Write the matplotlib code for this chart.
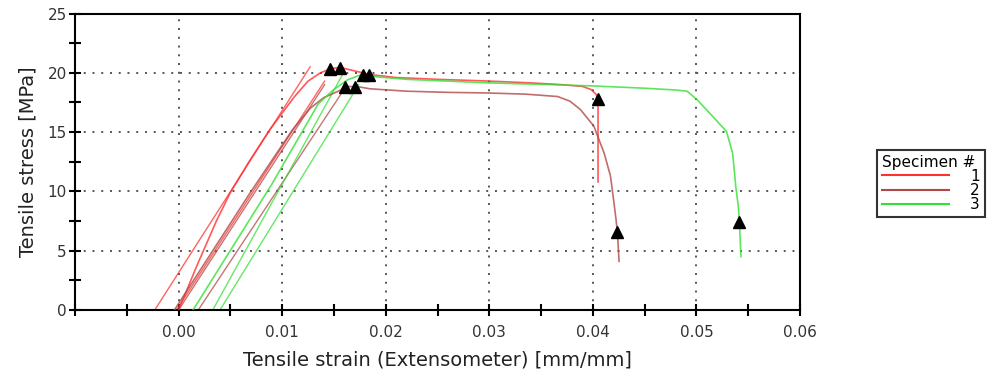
import numpy as np
import matplotlib
matplotlib.use("Agg")
import matplotlib.pyplot as plt
from matplotlib.ticker import FixedLocator, FuncFormatter
from matplotlib.lines import Line2D

# ---------------- data ----------------
specimens = ["1", "2", "3"]
colors = ["#ff3030", "#b04848", "#33e033"]

# Specimen 1 (red) test curve
s1_strain = [0.0000, 0.0018, 0.0037, 0.0050, 0.0068, 0.0088, 0.0100, 0.0112, 0.0125, 0.0137, 0.0147, 0.0156,
             0.0168, 0.0185, 0.0210, 0.0250, 0.0300, 0.0340, 0.0370, 0.0390, 0.0398, 0.0403, 0.0405, 0.0405]
s1_stress = [0.0, 3.8, 7.6, 9.9, 12.5, 15.2, 16.6, 18.0, 19.3, 20.0, 20.35, 20.45,
             20.2, 19.85, 19.6, 19.45, 19.3, 19.15, 19.0, 18.85, 18.6, 18.2, 17.8, 10.8]
# Specimen 1 modulus / fit lines (start, end)
s1_lines_x = [[-0.0023, 0.0127], [-0.0002, 0.0141]]
s1_lines_y = [[0.0, 20.5], [0.0, 19.3]]
s1_marks_x = [0.0146, 0.0156, 0.0405]
s1_marks_y = [20.3, 20.4, 17.8]

# Specimen 2 (brown) test curve
s2_strain = [-0.0004, 0.0070, 0.0110, 0.0127, 0.0140, 0.0153, 0.0164, 0.0175, 0.0185, 0.0220, 0.0260,
             0.0298, 0.0335, 0.0366, 0.0378, 0.0388, 0.0401, 0.0411, 0.0417, 0.0420, 0.0422, 0.04237, 0.04253]
s2_stress = [0.0, 10.0, 15.2, 17.0, 17.9, 18.4, 18.85, 18.8, 18.65, 18.45, 18.35,
             18.3, 18.2, 18.0, 17.6, 16.9, 15.5, 13.2, 11.3, 9.3, 7.9, 6.6, 4.1]
s2_lines_x = [[0.0000, 0.0141], [0.0019, 0.01575]]
s2_lines_y = [[0.0, 19.0], [0.0, 18.3]]
s2_marks_x = [0.0161, 0.0170, 0.04237]
s2_marks_y = [18.8, 18.8, 6.6]

# Specimen 3 (green) test curve
s3_strain = [0.0014, 0.0090, 0.0135, 0.0150, 0.0163, 0.0175, 0.0185, 0.0220, 0.0260, 0.0298, 0.0340,
             0.0398, 0.0450, 0.0480, 0.0491, 0.0501, 0.0517, 0.0529, 0.0535, 0.0538, 0.05405, 0.05415, 0.0543]
s3_stress = [0.0, 10.6, 17.4, 18.6, 19.4, 19.8, 19.7, 19.45, 19.3, 19.15, 19.05,
             18.9, 18.7, 18.55, 18.45, 17.7, 16.2, 15.06, 13.2, 10.4, 8.7, 7.45, 4.5]
s3_lines_x = [[0.0033, 0.0158], [0.0040, 0.0174]]
s3_lines_y = [[0.0, 19.8], [0.0, 19.0]]
s3_marks_x = [0.0178, 0.0184, 0.05415]
s3_marks_y = [19.8, 19.8, 7.45]

curves = [(s1_strain, s1_stress, s1_lines_x, s1_lines_y, s1_marks_x, s1_marks_y),
          (s2_strain, s2_stress, s2_lines_x, s2_lines_y, s2_marks_x, s2_marks_y),
          (s3_strain, s3_stress, s3_lines_x, s3_lines_y, s3_marks_x, s3_marks_y)]

x_label_vals = [-0.01, 0.00, 0.01, 0.02, 0.03, 0.04, 0.05, 0.06]
y_label_vals = [0, 5, 10, 15, 20, 25]

# ---------------- plot ----------------
plt.rcParams['font.family'] = ['DejaVu Sans']
fig = plt.figure(figsize=(9.95, 3.82), dpi=100)
ax = fig.add_axes([75 / 995, 1 - 310 / 382, (800 - 75) / 995, (310 - 13.5) / 382])

for (sx, sy, lx, ly, mx, my), c in zip(curves, colors):
    for xs, ys in zip(lx, ly):
        ax.plot(xs, ys, color=c, lw=1.0, alpha=0.75, zorder=2)
    ax.plot(sx, sy, color=c, lw=1.2, alpha=0.8, zorder=3)
    ax.plot(mx, my, linestyle='none', marker='^', color='black', markersize=9, zorder=5)

ax.set_xlim(-0.01, 0.06)
ax.set_ylim(0, 25)

ax.xaxis.set_major_locator(FixedLocator(x_label_vals))
ax.xaxis.set_minor_locator(FixedLocator([v + 0.005 for v in x_label_vals[:-1]]))
ax.xaxis.set_major_formatter(FuncFormatter(lambda v, p: "" if v < -0.005 else f"{v:.2f}"))
ax.yaxis.set_major_locator(FixedLocator(y_label_vals))
ax.yaxis.set_minor_locator(FixedLocator([v + 2.5 for v in y_label_vals[:-1]]))

ax.tick_params(which='both', direction='inout', length=8, width=1.5, colors='black',
               labelcolor='#333333', labelsize=11)
ax.tick_params(axis='x', which='both', top=False, pad=7)
ax.tick_params(axis='y', which='both', right=False, pad=2)

ax.grid(True, which='major', color='#555555', linestyle=(0, (1, 3.5)), linewidth=1.4)
for s in ax.spines.values():
    s.set_linewidth(1.5)
    s.set_color('black')

ax.set_xlabel("Tensile strain (Extensometer) [mm/mm]", fontsize=14, color='#222222', labelpad=7)
ax.set_ylabel("Tensile stress [MPa]", fontsize=14, color='#222222', labelpad=7)

handles = [Line2D([0], [0], color=c, lw=1.5) for c in colors]
leg = fig.legend(handles, specimens, title="Specimen #", loc='upper left',
                 bbox_to_anchor=(877 / 995, 1 - 150 / 382), frameon=True, fancybox=False,
                 edgecolor='black', fontsize=11, title_fontsize=11, handlelength=4.4,
                 handletextpad=1.4, labelspacing=-0.05, borderpad=0.3, borderaxespad=0)
leg.get_frame().set_linewidth(1.5)
leg._legend_box.align = "left"

fig.savefig("out.png", dpi=100)
